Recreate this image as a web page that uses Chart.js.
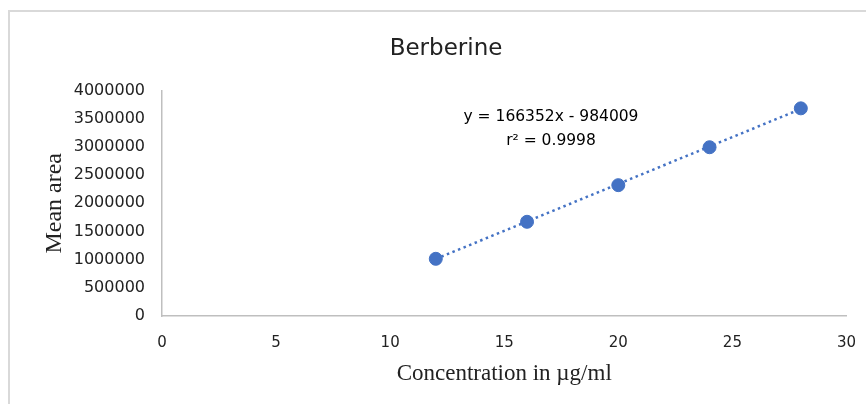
<!DOCTYPE html>
<html>
<head>
<meta charset="utf-8">
<script src="https://cdn.jsdelivr.net/npm/chart.js@4/dist/chart.umd.min.js"></script>
<style>
  body { margin: 0; background: #fff; overflow: hidden; }
  #frame { position: absolute; left: 8px; top: 10px; width: 860px; height: 396px;
           border-top: 2px solid #d9d9d9; border-left: 2px solid #d9d9d9; }
  #wrap { position: absolute; left: 0; top: 0; width: 866px; height: 404px; }
</style>
</head>
<body>
<div id="frame"></div>
<div id="wrap"><canvas id="chart"></canvas></div>
<script>
// calibration data
const concentration = [12, 16, 20, 24, 28]
const meanArea = [1015000, 1672000, 2322000, 2995000, 3685000]
// end points of the linear trendline
const trendX = [12, 28]
const trendY = [1012000, 3674000]
const equationLines = ['y = 166352x - 984009', 'r² = 0.9998']

const blue = '#4472C4'

function toPoints(xs, ys) {
    let pts = []
    for (let i = 0; i < xs.length; i++) {
        pts.push({x: xs[i], y: ys[i]})
    }
    return pts
}

// draws the trendline equation in data space
const equationPlugin = {
    id: 'equation',
    afterDatasetsDraw(chart, args, opts) {
        const ctx = chart.ctx
        const px = chart.scales.x.getPixelForValue(opts.x)
        const py = chart.scales.y.getPixelForValue(opts.y)
        ctx.save()
        ctx.font = '15.5px "DejaVu Sans"'
        ctx.fillStyle = '#000'
        ctx.textAlign = 'center'
        ctx.textBaseline = 'middle'
        opts.lines.forEach((line, i) => ctx.fillText(line, px, py + i * 24))
        ctx.restore()
    }
}

const chart = new Chart(document.getElementById('chart'), {
    type: 'scatter',
    data: {
        datasets: [{
            label: 'Trendline',
            data: toPoints(trendX, trendY),
            showLine: true,
            borderColor: blue,
            borderWidth: 2.5,
            borderDash: [2.5, 3.5],
            pointRadius: 0,
            order: 2
        }, {
            label: 'Berberine',
            data: toPoints(concentration, meanArea),
            backgroundColor: blue,
            borderColor: blue,
            pointRadius: 6.5,
            order: 1
        }]
    },
    options: {
        responsive: true,
        maintainAspectRatio: false,
        animation: false,
        layout: {padding: {left: 40, right: 14, top: 0, bottom: 0}},
        plugins: {
            legend: {display: false},
            tooltip: {enabled: false},
            title: {
                display: true,
                text: 'Berberine',
                color: '#222',
                font: {family: '"DejaVu Sans"', size: 23, weight: 'normal'},
                padding: {top: 35, bottom: 28}
            },
            equation: {x: 17.05, y: 3540000, lines: equationLines}
        },
        scales: {
            x: {
                type: 'linear',
                min: 0,
                max: 30,
                ticks: {stepSize: 5, color: '#222', padding: 10,
                        font: {family: '"DejaVu Sans"', size: 15}},
                grid: {display: false},
                border: {color: '#bfbfbf', width: 1.5},
                title: {display: true, text: 'Concentration in µg/ml', color: '#222',
                        font: {family: '"Liberation Serif"', size: 23},
                        padding: {top: 2, bottom: 16}},
                afterFit(axis) { axis.height = 88 }
            },
            y: {
                min: 0,
                max: 4000000,
                ticks: {stepSize: 500000, color: '#222', padding: 9,
                        font: {family: '"DejaVu Sans"', size: 16},
                        callback: (v) => String(v)},
                grid: {display: false},
                border: {color: '#bfbfbf', width: 1.5},
                title: {display: true, text: 'Mean area', color: '#222',
                        font: {family: '"Liberation Serif"', size: 24},
                        padding: {top: 0, bottom: 2}},
                afterFit(axis) { axis.width = 122 }
            }
        }
    },
    plugins: [equationPlugin]
})
</script>
</body>
</html>
